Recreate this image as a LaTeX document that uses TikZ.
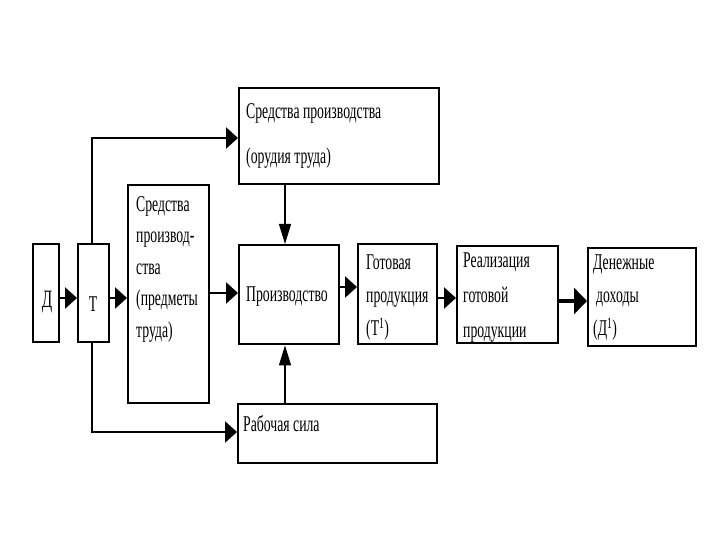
\documentclass[tikz,border=0pt]{standalone}
\usepackage{fontspec}
\setmainfont{Liberation Serif}[FakeStretch=0.61]
\usetikzlibrary{arrows.meta}
\tikzset{
  box/.style={draw, line width=2.4pt, inner sep=0pt, anchor=north west},
  txt/.style={inner sep=0pt, align=left, font=\fontsize{22.5}{33}\selectfont},
  hconn/.style={line width=2.4pt, -{Triangle[length=12pt,width=21pt]}},
  vconn/.style={line width=1.3pt, -{Triangle[length=20pt,width=12pt]}}
}
\begin{document}
\begin{tikzpicture}[x=1pt,y=-1pt]
\useasboundingbox (0,0) rectangle (720,540);
% boxes
\node[box, minimum width=26pt, minimum height=98pt] (d) at (32,243) {};
\node[box, minimum width=31pt, minimum height=98pt] (t) at (77,243) {};
\node[box, minimum width=81pt, minimum height=218pt] (sr) at (127,184) {};
\node[box, minimum width=100pt, minimum height=99pt] (prod) at (238,244) {};
\node[box, minimum width=200pt, minimum height=96pt] (top) at (238,87) {};
\node[box, minimum width=199pt, minimum height=59pt] (rab) at (237,403) {};
\node[box, minimum width=79pt, minimum height=100pt] (got) at (357,243) {};
\node[box, minimum width=101pt, minimum height=97pt] (real) at (456,245) {};
\node[box, minimum width=108pt, minimum height=98pt] (den) at (587,247) {};
% texts
\node[txt, font=\fontsize{25}{28}\selectfont] (dt) at (47,302) {Д};
\node[txt] (tt) at (93,304) {Т};
\node[txt, anchor=north west, font=\fontsize{22.5}{31.5}\selectfont] (srt) at (136,196)
  {Средства\\производ-\\ства\\(предметы\\труда)};
\node[txt, anchor=west] (prodt) at (246,297) {Производство};
\node[txt, anchor=north west, font=\fontsize{22.5}{45}\selectfont] (topt) at (246,103)
  {Средства производства\\(орудия труда)};
\node[txt, anchor=west] (rabt) at (243,424) {Рабочая сила};
\node[txt, anchor=north west] (gott) at (366,255)
  {Готовая\\продукция\\(Т\textsuperscript{1})};
\node[txt, anchor=north west, font=\fontsize{22.5}{35}\selectfont] (realt) at (463,253)
  {Реализация\\готовой\\продукции};
\node[txt, anchor=north west] (dent) at (593,255)
  {Денежные\\\hspace{3pt}доходы\\(Д\textsuperscript{1})};
% connectors
\draw[hconn] (d.east |- 0,298) -- (t.west |- 0,298);
\draw[hconn] (t.east |- 0,298) -- (sr.west |- 0,298);
\draw[hconn] (sr.east |- 0,293) -- (prod.west |- 0,293);
\draw[hconn] (t.north -| 92,0) |- (top.west |- 0,138);
\draw[hconn] (t.south -| 92,0) |- (rab.west |- 0,432);
\draw[vconn] (top.south -| 285,0) -- (prod.north -| 285,0);
\draw[vconn] (rab.north -| 285,0) -- (prod.south -| 285,0);
\draw[hconn] (prod.east |- 0,287) -- (got.west |- 0,287);
\draw[hconn] (got.east |- 0,298) -- (real.west |- 0,298);
\draw[hconn, line width=4pt, -{Triangle[length=13pt,width=26pt]}] (real.east |- 0,301) -- (den.west |- 0,301);
\end{tikzpicture}
\end{document}
